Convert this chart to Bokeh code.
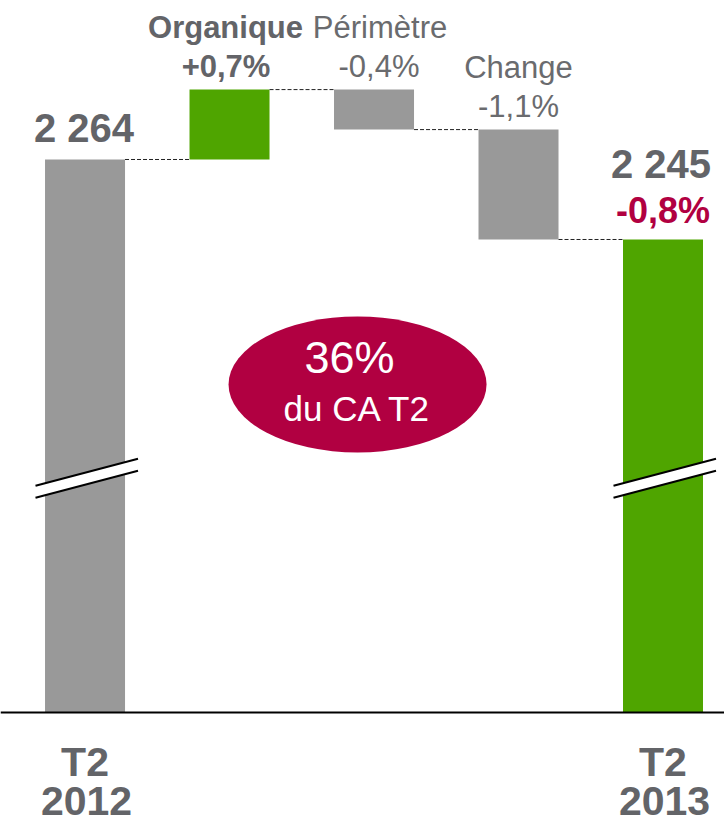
from bokeh.plotting import figure
from bokeh.models import Range1d, Span
from bokeh.core.properties import value
from bokeh.embed import file_html
from bokeh.resources import INLINE

# ---- data ----
categories = ["T2 2012", "Organique", "Périmètre", "Change", "T2 2013"]
start_value = 2264.0
deltas = [16.6, -9.5, -26.1]
end_value = 2245.0
delta_names = ["Organique", "Périmètre", "Change"]
delta_pcts = ["+0,7%", "-0,4%", "-1,1%"]
delta_bold = [True, False, False]
total_labels = ["2 264", "2 245"]
total_change = "-0,8%"
period_top = ["T2", "T2"]
period_bottom = ["2012", "2013"]
bubble_big = "36%"
bubble_small = "du CA T2"

# ---- layout / style ----
W, H = 724, 825
X0, X1 = -0.585, 4.4256
Y0, Y1 = 2105.82, 2301.76
AXIS_BASE = 2132.66          # value at which the broken axis starts
KX = W / (X1 - X0)
KY = H / (Y1 - Y0)
BAR_W = 80 / KX
GRAY = "#999999"
GREEN = "#4fa500"
TXT = "#636468"
TXT2 = "#6a6b6e"
CRIMSON = "#b10041"
FONT = value("Liberation Sans")


def yo(size, px):
    """pixel offset to put the alphabetic baseline px below/above the anchor"""
    return px - 0.37 * size


p = figure(width=W, height=H, x_range=Range1d(X0, X1), y_range=Range1d(Y0, Y1),
           x_axis_type=None, y_axis_type=None, output_backend="svg",
           toolbar_location=None, min_border=0)
p.grid.visible = False
p.outline_line_color = None
p.background_fill_color = "white"
p.border_fill_color = "white"

xs = list(range(len(categories)))

# totals
p.quad(left=[xs[0] - BAR_W / 2, xs[-1] - BAR_W / 2],
       right=[xs[0] + BAR_W / 2, xs[-1] + BAR_W / 2],
       bottom=[AXIS_BASE, AXIS_BASE], top=[start_value, end_value],
       fill_color=[GRAY, GREEN], line_color=None)

# deltas
levels = [start_value]
for d in deltas:
    levels.append(levels[-1] + d)
bottoms, tops, cols = [], [], []
for i, d in enumerate(deltas):
    a, b = levels[i], levels[i + 1]
    bottoms.append(min(a, b))
    tops.append(max(a, b))
    cols.append(GREEN if d > 0 else GRAY)
dx = xs[1:-1]
p.quad(left=[x - BAR_W / 2 for x in dx], right=[x + BAR_W / 2 for x in dx],
       bottom=bottoms, top=tops, fill_color=cols, line_color=None)

# connectors
p.segment(x0=[xs[i] + BAR_W / 2 for i in range(len(xs) - 1)],
          x1=[xs[i + 1] - BAR_W / 2 for i in range(len(xs) - 1)],
          y0=levels[:len(xs) - 1], y1=levels[:len(xs) - 1],
          line_color="#222222", line_width=1, line_dash="4 2")

# axis line
p.add_layout(Span(location=AXIS_BASE, dimension="width", line_color="black", line_width=2))

# axis break marks
BREAK_Y = 2188.3
for x in (xs[0], xs[-1]):
    xl = x - 49.5 / KX
    xr = x + 53.0 / KX
    tilt = 13.5 / KY
    gap = 6.0 / KY
    up_l, up_r = BREAK_Y - tilt + gap, BREAK_Y + tilt + gap
    lo_l, lo_r = BREAK_Y - tilt - gap, BREAK_Y + tilt - gap
    p.patch(x=[xl, xr, xr, xl], y=[up_l, up_r, lo_r, lo_l], fill_color="white", line_color=None)
    p.segment(x0=[xl, xl], x1=[xr, xr], y0=[up_l, lo_l], y1=[up_r, lo_r],
              line_color="black", line_width=2)

# total labels
p.text(x=[xs[0]], y=[start_value], text=[total_labels[0]], text_font=FONT,
       text_font_size="40px", text_font_style="bold", text_color=TXT,
       text_align="center", text_baseline="alphabetic", x_offset=-1, y_offset=yo(40, -17))
p.text(x=[xs[-1]], y=[end_value], text=[total_labels[1]], text_font=FONT,
       text_font_size="40px", text_font_style="bold", text_color=TXT,
       text_align="center", text_baseline="alphabetic", x_offset=-2, y_offset=yo(40, -61))
p.text(x=[xs[-1]], y=[end_value], text=[total_change], text_font=FONT,
       text_font_size="36px", text_font_style="bold", text_color=CRIMSON,
       text_align="center", text_baseline="alphabetic", x_offset=0, y_offset=yo(36, -16))

# delta labels
name_dx = [-4, 6, 0]
pct_dx = [-3.5, 5, 0]
for i in range(len(deltas)):
    st = "bold" if delta_bold[i] else "normal"
    col = TXT if delta_bold[i] else TXT2
    p.text(x=[dx[i]], y=[tops[i]], text=[delta_names[i]], text_font=FONT,
           text_font_size="31px", text_font_style=st, text_color=col,
           text_align="center", text_baseline="alphabetic",
           x_offset=name_dx[i], y_offset=yo(31, -51))
    p.text(x=[dx[i]], y=[tops[i]], text=[delta_pcts[i]], text_font=FONT,
           text_font_size="31px", text_font_style=st, text_color=col,
           text_align="center", text_baseline="alphabetic",
           x_offset=pct_dx[i], y_offset=yo(31, -12))

# period labels
for j, x in enumerate((xs[0], xs[-1])):
    p.text(x=[x], y=[AXIS_BASE], text=[period_top[j]], text_font=FONT,
           text_font_size="41px", text_font_style="bold", text_color=TXT,
           text_align="center", text_baseline="alphabetic", y_offset=yo(41, 65))
    p.text(x=[x], y=[AXIS_BASE], text=[period_bottom[j]], text_font=FONT,
           text_font_size="41px", text_font_style="bold", text_color=TXT,
           text_align="center", text_baseline="alphabetic", x_offset=1.5, y_offset=yo(41, 104))

# bubble
EX, EY = 1.886, 2210.56
p.ellipse(x=[EX], y=[EY], width=258, height=136, width_units="screen",
          height_units="screen", fill_color=CRIMSON, line_color=None)
p.text(x=[EX], y=[EY], text=[bubble_big], text_font=FONT, text_font_size="45px",
       text_color="white", text_align="center", text_baseline="alphabetic",
       x_offset=-8, y_offset=yo(45, -10))
p.text(x=[EX], y=[EY], text=[bubble_small], text_font=FONT, text_font_size="35px",
       text_color="white", text_align="center", text_baseline="alphabetic",
       x_offset=0, y_offset=yo(35, 37))

open("out.html", "w").write(file_html(p, INLINE))
